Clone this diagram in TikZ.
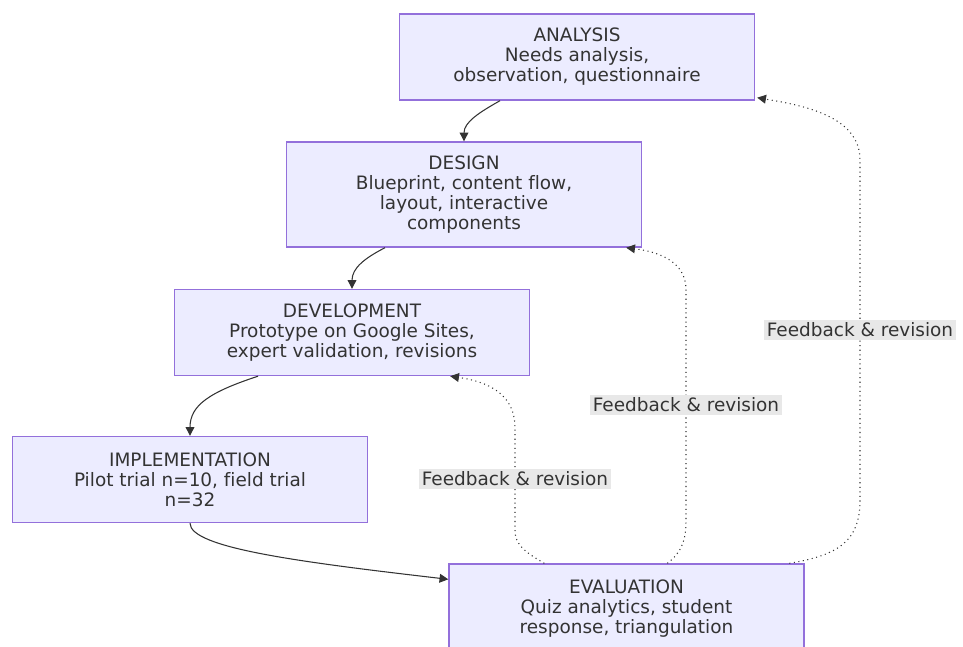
\documentclass[tikz,border=0pt]{standalone}
\usepackage{fontspec}
\setmainfont{DejaVu Sans}[Ligatures=NoCommon]
\usepackage{tikz}
\usetikzlibrary{arrows.meta,calc}
\definecolor{boxfill}{HTML}{ECECFF}
\definecolor{boxline}{HTML}{9370DB}
\definecolor{ink}{HTML}{333333}
\definecolor{tagfill}{HTML}{E8E8E8}
\tikzset{
  phase/.style={draw=boxline, fill=boxfill, line width=0.8pt, text=ink, align=center,
    font=\fontsize{10.5}{11.4}\selectfont, inner sep=0pt, minimum width=7.1cm, minimum height=1.72cm},
  flow/.style={draw=ink, line width=0.6pt, -{Triangle[length=5pt,width=5pt]}},
  back/.style={flow, dotted},
  tag/.style={fill=tagfill, text=ink, font=\fontsize{10.5}{11.4}\selectfont, inner sep=1.5pt}
}
\begin{document}
\begin{tikzpicture}[x=0.02cm, y=-0.02cm]
\useasboundingbox (0,0) rectangle (963,646);
\node [phase] (ana) at (577,57) {ANALYSIS\\Needs analysis,\\observation, questionnaire};
\node [phase, minimum height=2.1cm] (des) at (464,194.5) {DESIGN\\Blueprint, content flow,\\layout, interactive\\components};
\node [phase] (dev) at (352,332.5) {DEVELOPMENT\\Prototype on Google Sites,\\expert validation, revisions};
\node [phase] (imp) at (190,479.5) {IMPLEMENTATION\\Pilot trial n=10, field trial\\n=32};
\node [phase, minimum height=1.8cm] (eva) at (626.5,609) {EVALUATION\\Quiz analytics, student\\response, triangulation};
\draw [flow] ($(ana.south)+(-77,0)$) .. controls (480,112) and (464,122) .. (des.north);
\draw [flow] ($(des.south)+(-79,0)$) .. controls (365,258) and (352,268) .. (dev.north);
\draw [flow] ($(dev.south)+(-94,0)$) .. controls (210,392) and (190,405) .. (imp.north);
\draw [flow] (imp.south) .. controls (190,548) and (300,562) .. ($(eva.north west)+(0,16)$);
\draw [back] ($(eva.north west)+(96,0)$) .. controls (525,552) and (515,545) .. (515,530)
  -- node [tag] {Feedback \& revision} (515,428)
  .. controls (515,395) and (490,382) .. ($(dev.south east)+(-80,0)$);
\draw [back] ($(eva.north west)+(219,0)$) .. controls (682,552) and (686,540) .. (686,520)
  -- node [tag] {Feedback \& revision} (686,290)
  .. controls (686,262) and (660,252) .. ($(des.south east)+(-16,0)$);
\draw [back] ($(eva.north west)+(341,0)$) .. controls (840,555) and (860,540) .. (860,500)
  -- node [tag] {Feedback \& revision} (860,160)
  .. controls (860,115) and (800,105) .. ($(ana.south east)+(2,-3)$);
\end{tikzpicture}
\end{document}
